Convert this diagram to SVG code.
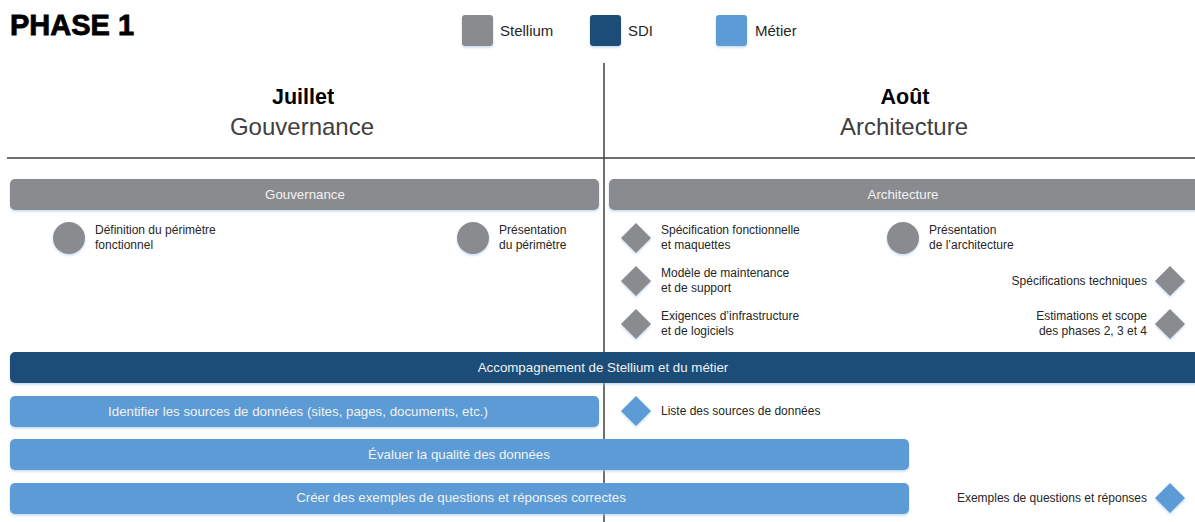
<svg xmlns="http://www.w3.org/2000/svg" width="1195" height="522" viewBox="0 0 1195 522">
<style>
.lbl{font-family:"Liberation Sans",Arial,sans-serif;font-size:12px;fill:#262626}
.bar{font-family:"Liberation Sans",Arial,sans-serif;font-size:13.3px;fill:#f2f2f2;text-anchor:middle}
.leg{font-family:"Liberation Sans",Arial,sans-serif;font-size:15px;fill:#262626}
.gray{fill:#898b8e}
.dark{fill:#1f4e79}
.blue{fill:#5b9bd5}
.sep{stroke:#404040;stroke-width:1.5}
</style>
<defs>
<filter id="sh" x="-10%" y="-30%" width="120%" height="170%">
<feDropShadow dx="0" dy="1.5" stdDeviation="1.2" flood-color="#9dc3e6" flood-opacity="0.6"/>
</filter>
</defs>
<text x="10" y="35" font-family="Liberation Sans,Arial,sans-serif" font-size="29" font-weight="bold" fill="#000" stroke="#000" stroke-width="0.8">PHASE 1</text>
<g id="legend">
<rect x="462" y="15" width="31" height="31" rx="3" class="gray" filter="url(#sh)"/>
<text x="500" y="36" class="leg">Stellium</text>
<rect x="590" y="15" width="31" height="31" rx="3" class="dark" filter="url(#sh)"/>
<text x="628" y="36" class="leg">SDI</text>
<rect x="716" y="15" width="31" height="31" rx="3" class="blue" filter="url(#sh)"/>
<text x="755" y="36" class="leg">Métier</text>
</g>
<g id="headers" font-family="Liberation Sans,Arial,sans-serif" text-anchor="middle">
<text x="303" y="104" font-size="21.5" font-weight="bold" fill="#000">Juillet</text>
<text x="302" y="135" font-size="24" fill="#404040">Gouvernance</text>
<text x="905" y="104" font-size="21.5" font-weight="bold" fill="#000">Août</text>
<text x="904" y="135" font-size="24" fill="#404040">Architecture</text>
</g>
<g id="grid">
<line x1="7" y1="158" x2="1195" y2="158" class="sep"/>
<line x1="604" y1="63" x2="604" y2="522" class="sep"/>
</g>
<g id="bar-gouvernance">
<rect x="10" y="179" width="589" height="31" rx="5" class="gray" filter="url(#sh)"/>
<text x="305" y="199" class="bar">Gouvernance</text>
</g>
<g id="bar-architecture">
<rect x="609" y="179" width="600" height="31" rx="5" class="gray" filter="url(#sh)"/>
<text x="903" y="199" class="bar">Architecture</text>
</g>
<g id="m-definition">
<circle cx="69" cy="238" r="16" class="gray" filter="url(#sh)"/>
<text x="95" y="234" class="lbl">Définition du périmètre</text>
<text x="95" y="249" class="lbl">fonctionnel</text>
</g>
<g id="m-presentation-perimetre">
<circle cx="473" cy="238" r="16" class="gray" filter="url(#sh)"/>
<text x="499" y="234" class="lbl">Présentation</text>
<text x="499" y="249" class="lbl">du périmètre</text>
</g>
<g id="m-specification">
<polygon points="636,223 651,238 636,253 621,238" class="gray" filter="url(#sh)"/>
<text x="661" y="234" class="lbl">Spécification fonctionnelle</text>
<text x="661" y="249" class="lbl">et maquettes</text>
</g>
<g id="m-maintenance">
<polygon points="636,266 651,281 636,296 621,281" class="gray" filter="url(#sh)"/>
<text x="661" y="277" class="lbl">Modèle de maintenance</text>
<text x="661" y="292" class="lbl">et de support</text>
</g>
<g id="m-exigences">
<polygon points="636,309 651,324 636,339 621,324" class="gray" filter="url(#sh)"/>
<text x="661" y="320" class="lbl">Exigences d’infrastructure</text>
<text x="661" y="335" class="lbl">et de logiciels</text>
</g>
<g id="m-presentation-architecture">
<circle cx="903" cy="238" r="16" class="gray" filter="url(#sh)"/>
<text x="929" y="234" class="lbl">Présentation</text>
<text x="929" y="249" class="lbl">de l’architecture</text>
</g>
<g id="m-spec-techniques">
<polygon points="1170,266 1185,281 1170,296 1155,281" class="gray" filter="url(#sh)"/>
<text x="1147" y="285" class="lbl" text-anchor="end">Spécifications techniques</text>
</g>
<g id="m-estimations">
<polygon points="1170,309 1185,324 1170,339 1155,324" class="gray" filter="url(#sh)"/>
<text x="1147" y="320" class="lbl" text-anchor="end">Estimations et scope</text>
<text x="1147" y="335" class="lbl" text-anchor="end">des phases 2, 3 et 4</text>
</g>
<g id="bar-accompagnement">
<rect x="10" y="352" width="1200" height="31" rx="5" class="dark" filter="url(#sh)"/>
<text x="603" y="372" class="bar">Accompagnement de Stellium et du métier</text>
</g>
<g id="bar-identifier">
<rect x="10" y="396" width="589" height="31" rx="5" class="blue" filter="url(#sh)"/>
<text x="298" y="416" class="bar">Identifier les sources de données (sites, pages, documents, etc.)</text>
</g>
<g id="m-liste">
<polygon points="636,396 651,411 636,426 621,411" class="blue" filter="url(#sh)"/>
<text x="661" y="415" class="lbl">Liste des sources de données</text>
</g>
<g id="bar-evaluer">
<rect x="10" y="439" width="899" height="31" rx="5" class="blue" filter="url(#sh)"/>
<text x="459" y="459" class="bar">Évaluer la qualité des données</text>
</g>
<g id="bar-creer">
<rect x="10" y="483" width="899" height="31" rx="5" class="blue" filter="url(#sh)"/>
<text x="461" y="502" class="bar">Créer des exemples de questions et réponses correctes</text>
</g>
<g id="m-exemples">
<polygon points="1170,483 1185,498 1170,513 1155,498" class="blue" filter="url(#sh)"/>
<text x="1147" y="502" class="lbl" text-anchor="end">Exemples de questions et réponses</text>
</g>
<g id="connectors"></g>
</svg>
